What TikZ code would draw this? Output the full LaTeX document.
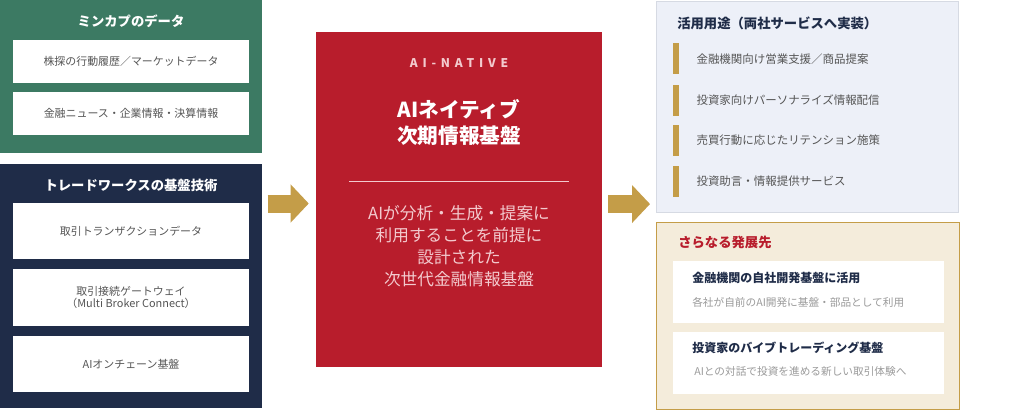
\documentclass[tikz,border=0pt]{standalone}
\usepackage{fontspec}
\setmainfont{Noto Sans CJK JP}
\usetikzlibrary{arrows.meta, positioning}
\definecolor{mkgreen}{HTML}{3C7A63}
\definecolor{twnavy}{HTML}{1F2C48}
\definecolor{aired}{HTML}{B81D2C}
\definecolor{redlight}{HTML}{F3CACE}
\definecolor{gold}{HTML}{C49D48}
\definecolor{usebg}{HTML}{EDF0F8}
\definecolor{useborder}{HTML}{D6DAE3}
\definecolor{growbg}{HTML}{F4ECDB}
\definecolor{textgray}{HTML}{555555}
\definecolor{subgray}{HTML}{9A9A9A}
\tikzstyle{panel} = [rectangle, anchor=north west, inner sep=0pt]
\tikzstyle{wbox} = [rectangle, fill=white, minimum width=177pt, text centered, align=center,
  text=textgray, font=\fontsize{8.2pt}{9.4pt}\selectfont]
\tikzstyle{ptitle} = [inner sep=0pt, font=\fontsize{10pt}{12pt}\selectfont\bfseries]
\tikzstyle{bigarr} = [draw=gold, line width=13.5pt, -{Triangle[length=13.5pt, width=27.75pt]}]

\begin{document}
\begin{tikzpicture}[x=0.75pt, y=-0.75pt]

    \tikzstyle{bar} = [rectangle, fill=gold, minimum width=4.5pt, minimum height=23.25pt, inner sep=0pt];
    \tikzstyle{item} = [anchor=west, inner sep=0pt, text=textgray, font=\fontsize{8.6pt}{10pt}\selectfont];
    \tikzstyle{gbox} = [rectangle, fill=white, minimum width=203.25pt, minimum height=46.5pt];
    \tikzstyle{gtitle} = [anchor=west, inner sep=0pt, text=twnavy, font=\fontsize{9pt}{11pt}\selectfont\bfseries];
    \tikzstyle{gsub} = [anchor=west, inner sep=0pt, text=subgray, font=\fontsize{8pt}{10pt}\selectfont];

    \useasboundingbox (0,0) rectangle (1016,410);
    %\draw [help lines, step=50] (0,0) grid (1016,410);

    \node [panel, fill=mkgreen, minimum width=196.5pt, minimum height=114.75pt] at (0,0) (mdata) {};
    \node [ptitle, text=white] at (131,21) (mdtitle) {ミンカプのデータ};
    \node [wbox, minimum height=32.25pt] at (131,61.5) (kabutan) {株探の行動履歴／マーケットデータ};
    \node [wbox, minimum height=32.25pt] at (131,113.5) (news) {金融ニュース・企業情報・決算情報};

    \node [panel, fill=twnavy, minimum width=196.5pt, minimum height=183pt] at (0,164) (twtech) {};
    \node [ptitle, text=white] at (131,185) (twtitle) {トレードワークスの基盤技術};
    \node [wbox, minimum height=42pt] at (131,231) (trans) {取引トランザクションデータ};
    \node [wbox, minimum height=42.75pt] at (131,297.5) (gateway) {取引接続ゲートウェイ\\（Multi Broker Connect）};
    \node [wbox, minimum height=42pt] at (131,364) (chain) {AIオンチェーン基盤};

    \node [rectangle, fill=aired, minimum width=214.5pt, minimum height=251.25pt] at (459,199.5) (ainative) {};
    \node [text=redlight, font=\fontsize{9pt}{10pt}\selectfont\bfseries\addfontfeature{LetterSpace=40}] at (459,63) (aitag) {AI-NATIVE};
    \node [text=white, align=center, font=\fontsize{15.5pt}{19pt}\selectfont\bfseries] at (459,122.5) (aititle) {AIネイティブ\\次期情報基盤};
    \draw [redlight, line width=0.75pt] (349,181) -- (569,181);
    \node [text=redlight, align=center, font=\fontsize{12.5pt}{16.5pt}\selectfont] at (459,246) (aibody) {AIが分析・生成・提案に\\利用することを前提に\\設計された\\次世代金融情報基盤};

    \node [panel, fill=usebg, draw=useborder, minimum width=226.5pt, minimum height=158.25pt] at (656,1) (usage) {};
    \node [ptitle, text=twnavy, anchor=west] at (677,23) (usetitle) {活用用途（両社サービスへ実装）};
    \node [bar] at (676,59) (bar1) {};
    \node [item, right=12.75pt of bar1] (use1) {金融機関向け営業支援／商品提案};
    \node [bar] at (676,100.5) (bar2) {};
    \node [item, right=12.75pt of bar2] (use2) {投資家向けパーソナライズ情報配信};
    \node [bar] at (676,140.5) (bar3) {};
    \node [item, right=12.75pt of bar3] (use3) {売買行動に応じたリテンション施策};
    \node [bar] at (676,181.5) (bar4) {};
    \node [item, right=12.75pt of bar4] (use4) {投資助言・情報提供サービス};

    \node [panel, fill=growbg, draw=gold, line width=1.1pt, minimum width=227.25pt, minimum height=140.25pt] at (656,222) (growth) {};
    \node [ptitle, text=aired, anchor=west] at (678,242) (growtitle) {さらなる発展先};
    \node [gbox] at (808.5,292) (inhouse) {};
    \node [gtitle] at (692,278) (inhousetitle) {金融機関の自社開発基盤に活用};
    \node [gsub] at (692,302) (inhousesub) {各社が自前のAI開発に基盤・部品として利用};
    \node [gbox] at (808.5,363) (vibe) {};
    \node [gtitle] at (692,348) (vibetitle) {投資家のバイブトレーディング基盤};
    \node [gsub] at (694,371) (vibesub) {AIとの対話で投資を進める新しい取引体験へ};

    \coordinate (arrin) at ([yshift=-3pt]ainative.west);
    \coordinate (arrout) at ([yshift=-3.4pt]ainative.east);
    \draw [bigarr, shorten <=3.75pt, shorten >=5.25pt] (twtech.east |- arrin) -- (arrin);
    \draw [bigarr, shorten <=4.5pt, shorten >=4.5pt] (arrout) -- (arrout -| usage.west);

\end{tikzpicture}
\end{document}
